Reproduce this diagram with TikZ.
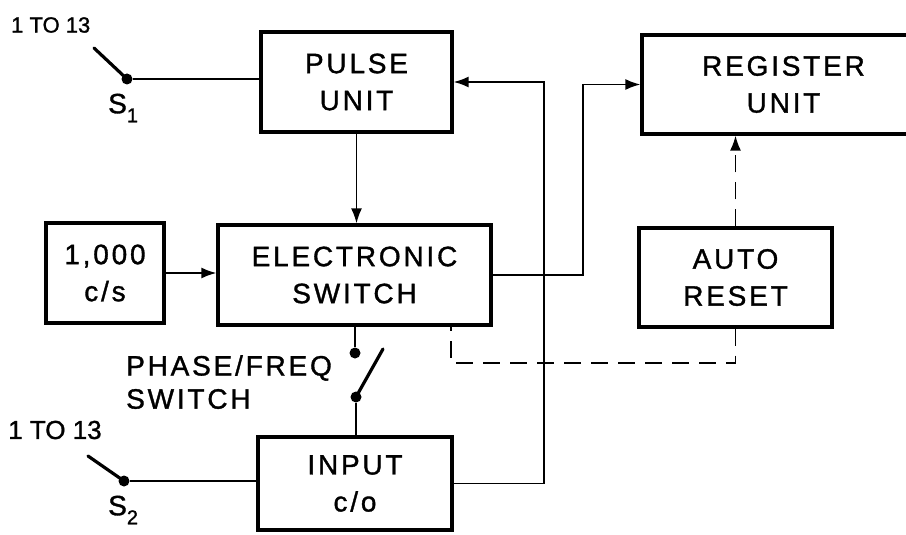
\documentclass[tikz,border=0pt]{standalone}
\usepackage{fontspec}
\setmainfont{Liberation Sans}
\newfontfamily\lett[LetterSpace=10,FakeBold=1.2]{Liberation Sans}
\newfontfamily\lettn[FakeBold=1.2]{Liberation Sans}
\newcommand\boxfont{\lett\fontsize{28}{37}\selectfont}
\newcommand\lblfont{\lett\fontsize{28}{31}\selectfont}
\newcommand\numfont{\lettn\fontsize{26}{31}\selectfont}
\newcommand\smallnumfont{\lettn\fontsize{22}{26}\selectfont}
\newcommand\subsc[1]{\raisebox{-9pt}{\fontsize{20}{20}\selectfont #1}}
\usetikzlibrary{arrows.meta}
\begin{document}
\begin{tikzpicture}[x=1pt,y=-1pt,
  blk/.style={draw,line width=3.2pt,inner sep=0pt,align=center,font=\boxfont},
  wire/.style={line width=1.8pt},
  arr/.style={wire,-{Latex[length=15pt,width=11pt]}},
  dashwire/.style={wire,dash pattern=on 17pt off 10pt},
  blade/.style={line width=3.2pt,line cap=round},
  dotc/.style={circle,fill,inner sep=0pt,minimum size=11pt},
  lbl/.style={font=\lblfont,inner sep=0pt,anchor=west}]
\useasboundingbox (0,0) rectangle (906,535);
% blocks
\node[blk,minimum width=191pt,minimum height=100pt] (pulse) at (356.5,82) {PULSE\\UNIT};
\node[blk,minimum width=283pt,minimum height=99pt] (reg) at (783.5,84.5) {REGISTER\\UNIT};
\node[blk,minimum width=273pt,minimum height=100pt] (es) at (354.5,275) {ELECTRONIC\\SWITCH};
\node[blk,minimum width=118pt,minimum height=100pt] (cs) at (105,273) {1,000\\c/s};
\node[blk,minimum width=193pt,minimum height=99pt] (auto) at (735.5,277.5) {AUTO\\RESET};
\node[blk,minimum width=194pt,minimum height=93pt] (inp) at (355,483.5) {INPUT\\c/o};
% S1 switch
\node[dotc] (s1d) at (127,79) {};
\coordinate (s1b) at (94,48);
\draw[blade] (s1b) -- (s1d.center);
\draw[wire] (s1d) -- (pulse.west |- s1d);
% S2 switch
\node[dotc] (s2d) at (124,481) {};
\coordinate (s2b) at (88,456);
\draw[blade] (s2b) -- (s2d.center);
\draw[wire] (s2d) -- (inp.west |- s2d);
% arrows
\draw[arr] (pulse.south) -- (pulse.south |- es.north);
\draw[arr] (cs.east) -- (es.west |- cs.east);
\coordinate (j1) at (583,0);
\draw[arr] (es.east) -- (es.east -| j1) -- (j1 |- reg.west) -- (reg.west);
\coordinate (j2) at (544,0);
\draw[arr] (inp.east) -- (inp.east -| j2) -- (j2 |- pulse.east) -- (pulse.east);
% dashed reset
\draw[dashwire,-{Latex[length=15pt,width=11pt]}] (auto.north) -- (auto.north |- reg.south);
\coordinate (d1) at (451,363);
\draw[dashwire] (auto.south) -- (auto.south |- d1) -- (d1) -- (d1 |- es.south);
% phase/freq switch
\node[dotc] (p1) at (355,353) {};
\node[dotc] (p2) at (356,397) {};
\coordinate (pb) at (383,349);
\draw[wire] (p1 |- es.south) -- (p1);
\draw[blade] (p2.center) -- (pb);
\draw[wire] (p2) -- (p2 |- inp.north);
% labels
\node[inner sep=0pt,anchor=west,font=\smallnumfont] (t1) at (11,25) {1 TO 13};
\node[inner sep=0pt,anchor=west,font=\numfont] (t2) at (8,430) {1 TO 13};
\node[lbl] (s1l) at (108,108) {S\subsc{1}};
\node[lbl] (s2l) at (108,510) {S\subsc{2}};
\node[lbl] (ph1) at (126,368) {PHASE/FREQ};
\node[lbl] (ph2) at (126,399) {SWITCH};
\end{tikzpicture}
\end{document}
